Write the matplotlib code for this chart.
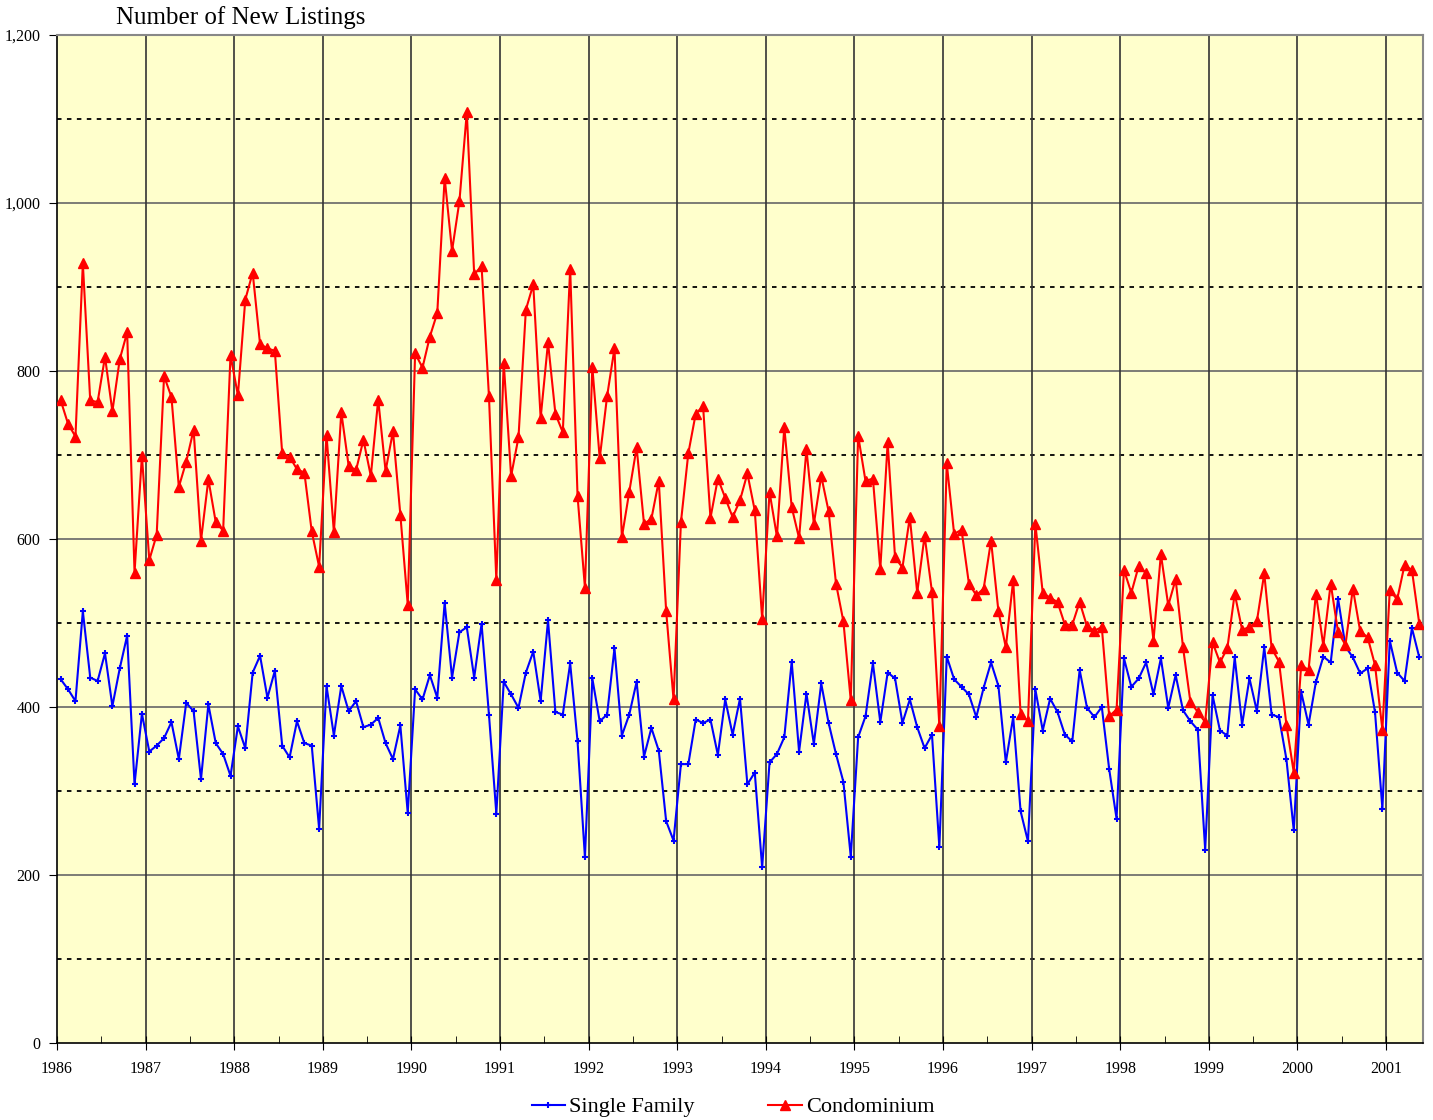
import matplotlib.pyplot as plt
from matplotlib.ticker import FuncFormatter, FixedLocator

plt.rcParams['font.family'] = ['Liberation Serif', 'DejaVu Serif']

# monthly values, Jan 1986 .. May 2001
single_family = [
    433, 421, 407, 514, 435, 431, 464, 401, 446, 485, 308, 392,   # 1986
    347, 354, 363, 382, 338, 405, 395, 314, 403, 357, 344, 318,   # 1987
    377, 351, 441, 461, 411, 443, 354, 340, 383, 357, 354, 255,   # 1988
    425, 366, 425, 395, 407, 376, 379, 387, 357, 338, 378, 274,   # 1989
    421, 409, 438, 411, 524, 435, 489, 495, 435, 499, 391, 273,   # 1990
    430, 415, 399, 441, 466, 407, 503, 394, 391, 452, 359, 221,   # 1991
    434, 383, 391, 470, 366, 391, 430, 341, 375, 348, 264, 241,   # 1992
    332, 332, 385, 381, 385, 343, 409, 367, 410, 308, 322, 209,   # 1993
    334, 344, 364, 454, 347, 416, 356, 428, 381, 344, 311, 222,   # 1994
    364, 389, 452, 382, 441, 434, 381, 409, 376, 351, 367, 233,   # 1995
    460, 433, 424, 415, 388, 423, 453, 425, 334, 388, 276, 240,   # 1996
    421, 372, 410, 394, 367, 359, 444, 399, 388, 400, 326, 267,   # 1997
    458, 424, 434, 453, 415, 458, 399, 438, 396, 383, 373, 230,   # 1998
    414, 372, 366, 459, 379, 434, 395, 471, 391, 388, 338, 253,   # 1999
    418, 379, 430, 460, 453, 529, 472, 459, 440, 446, 394, 279,   # 2000
    479, 441, 431, 494, 459,                                      # 2001
]
condominium = [
    765, 737, 722, 928, 765, 763, 817, 752, 814, 846, 560, 699,
    575, 605, 794, 769, 662, 692, 730, 598, 671, 620, 610, 819,
    771, 885, 917, 832, 827, 824, 702, 698, 683, 679, 609, 567,
    724, 608, 751, 687, 682, 718, 675, 766, 681, 728, 629, 522,
    821, 804, 841, 869, 1030, 943, 1002, 1108, 915, 925, 770, 551,
    810, 675, 721, 873, 903, 744, 834, 749, 727, 922, 651, 542,
    805, 696, 770, 827, 602, 656, 709, 618, 624, 669, 514, 409,
    620, 702, 749, 758, 625, 672, 649, 626, 646, 678, 634, 505,
    656, 603, 733, 638, 601, 707, 618, 675, 633, 547, 502, 408,
    723, 669, 672, 564, 715, 578, 566, 626, 536, 604, 537, 377,
    690, 606, 611, 547, 533, 541, 598, 514, 471, 551, 392, 383,
    618, 536, 530, 525, 498, 498, 525, 496, 491, 495, 389, 397,
    563, 536, 568, 559, 479, 582, 521, 552, 471, 406, 394, 382,
    477, 453, 470, 535, 492, 495, 502, 559, 470, 454, 379, 322,
    450, 444, 535, 473, 547, 489, 474, 541, 490, 483, 450, 373,
    539, 528, 569, 563, 499,
]
years = list(range(1986, 2002))

months = list(range(len(condominium)))

fig = plt.figure(figsize=(14.33, 11.2), dpi=100)
ax = fig.add_axes([57 / 1433, 77 / 1120, 1366 / 1433, 1008 / 1120])
ax.set_facecolor('#FFFFCC')

# grid
for v in range(100, 1200, 200):
    ax.axhline(v, color='black', lw=1.3, ls=(0, (2.5, 3)), zorder=1)
for v in range(200, 1200, 200):
    ax.axhline(v, color='#666666', lw=1.2, zorder=1)
year_pos = [12 * k - 0.5 for k in range(len(years))]
for p in year_pos[1:]:
    ax.axvline(p, color='#333333', lw=1.2, zorder=1)

ax.plot(months, single_family, color='#0000FF', lw=1.5, marker='+',
        markersize=5, markeredgewidth=1.5, label='Single Family', zorder=3)
ax.plot(months, condominium, color='#FF0000', lw=1.5, marker='^',
        markersize=7.5, label='Condominium', zorder=4)

ax.set_xlim(-0.5, 184.5)
ax.set_ylim(0, 1200)

ax.set_yticks(range(0, 1201, 200))
ax.yaxis.set_major_formatter(FuncFormatter(lambda v, p: f'{int(v):,}'))
ax.tick_params(axis='y', direction='out', length=6, labelsize=11.5, pad=6)

ax.xaxis.set_major_locator(FixedLocator(year_pos))
ax.set_xticklabels([str(y) for y in years])
ax.xaxis.set_minor_locator(FixedLocator([12 * k + 5.5 for k in range(len(years))]))
ax.tick_params(axis='x', which='major', direction='inout', length=10, labelsize=11.5, pad=8)
ax.tick_params(axis='x', which='minor', direction='in', length=5)

for s in ['left', 'bottom']:
    ax.spines[s].set_color('black')
    ax.spines[s].set_linewidth(1.2)
for s in ['top', 'right']:
    ax.spines[s].set_color('#888888')
    ax.spines[s].set_linewidth(1.5)

fig.text(116 / 1433, 1 - 18 / 1120, 'Number of New Listings', fontsize=18,
         ha='left', va='center')

fig.legend(loc='center', bbox_to_anchor=(733 / 1433, 13 / 1120), ncol=2,
           frameon=False, fontsize=16, handlelength=1.5, columnspacing=3.3,
           handletextpad=0.2)

fig.savefig('out.png', dpi=100)
